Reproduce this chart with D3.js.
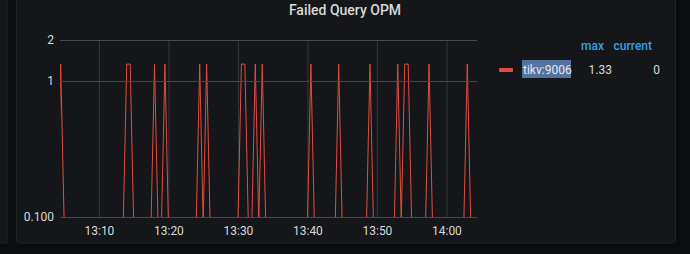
<!DOCTYPE html>
<html>
<head>
<meta charset="utf-8">
<script src="https://cdn.jsdelivr.net/npm/d3@7"></script>
<style>
  html, body { margin: 0; padding: 0; background: #0b0c0e; }
  svg { display: block; font-family: Roboto, "Noto Sans", sans-serif; }
</style>
</head>
<body>
<script>
// series: tikv:9006, one sample every 30s starting 13:04:00
const seriesName = "tikv:9006";
const startTime = "2020-01-01T13:04:00";
const stepSeconds = 30;
const values = [
  0, 1.33, 0, 0, 0, 0, 0, 0, 0, 0, 0, 0, 0, 0, 0, 0, 0, 0, 0, 0,
  1.33, 1.33, 0, 0, 0, 0, 0, 0, 1.33, 0, 0, 1.33, 0, 0, 0, 0, 0, 0, 0, 0,
  0, 1.33, 0, 1.33, 0, 0, 0, 0, 0, 0, 0, 0, 0, 1.33, 1.33, 0, 0, 1.33, 0, 1.33,
  0, 0, 0, 0, 0, 0, 0, 0, 0, 0, 0, 0, 0, 1.33, 0, 0, 0, 0, 0, 0,
  0, 1.33, 0, 0, 0, 0, 0, 0, 0, 0, 1.33, 0, 0, 0, 0, 0, 0, 0, 1.33, 0,
  1.33, 1.33, 0, 0, 0, 0, 0, 1.33, 0, 0, 0, 0, 0, 0, 0, 0, 0, 0, 1.33, 0,
  0
];
const timeDomain = ["2020-01-01T13:04:24", "2020-01-01T14:04:24"];
const yTicks = [0.1, 1, 2];
const yTickLabels = ["0.100", "1", "2"];
const legendHeaders = ["max", "current"];
const legendValues = ["1.33", "0"];

// zero can't sit on a log axis, it is pushed just under the bottom and clipped
const zeroFloor = 0.09;

const width = 690;
const height = 254;
const plot = { left: 60, right: 477, top: 40, bottom: 217 };

const t0 = new Date(startTime).getTime();
const data = values.map((v, i) => ({ t: new Date(t0 + i * stepSeconds * 1000), v: v }));

const svg = d3.select("body").append("svg")
  .attr("width", width)
  .attr("height", height);

// panels
svg.append("rect").attr("x", -10).attr("y", -10).attr("width", 17).attr("height", 253)
  .attr("fill", "#141619").attr("stroke", "#202226");
svg.append("rect").attr("x", 16.5).attr("y", -10).attr("width", 659).attr("height", 253)
  .attr("rx", 3).attr("fill", "#141619").attr("stroke", "#202226");

svg.append("text")
  .attr("x", 345).attr("y", 15)
  .attr("text-anchor", "middle")
  .attr("fill", "#d8d9da")
  .attr("font-size", 14).attr("font-weight", 500)
  .text("Failed Query OPM");

const x = d3.scaleTime()
  .domain(timeDomain.map((d) => new Date(d)))
  .range([plot.left, plot.right]);

const y = d3.scaleLog()
  .domain([yTicks[0], yTicks[yTicks.length - 1]])
  .range([plot.bottom, plot.top]);

const xAxis = d3.axisBottom(x)
  .ticks(d3.timeMinute.every(10))
  .tickFormat(d3.timeFormat("%H:%M"))
  .tickSize(-(plot.bottom - plot.top))
  .tickPadding(9);

const yAxis = d3.axisLeft(y)
  .tickValues(yTicks)
  .tickFormat((d, i) => yTickLabels[i])
  .tickSize(-(plot.right - plot.left))
  .tickPadding(6);

const gx = svg.append("g")
  .attr("transform", "translate(0," + plot.bottom + ")")
  .call(xAxis);
gx.select(".domain").remove();
gx.selectAll(".tick line").attr("stroke", "#34373b");

svg.append("clipPath").attr("id", "plot-clip")
  .append("rect")
  .attr("x", plot.left).attr("y", plot.top - 2)
  .attr("width", plot.right - plot.left)
  .attr("height", plot.bottom - plot.top + 2);

const line = d3.line()
  .x((d) => x(d.t))
  .y((d) => y(d.v > 0 ? d.v : zeroFloor));

svg.append("path")
  .datum(data)
  .attr("clip-path", "url(#plot-clip)")
  .attr("fill", "none")
  .attr("stroke", "#e24d42")
  .attr("stroke-width", 1)
  .attr("d", line);

const gy = svg.append("g")
  .attr("transform", "translate(" + plot.left + ",0)")
  .call(yAxis);
gy.select(".domain").remove();
gy.selectAll(".tick line").attr("stroke", "#45484c");

svg.selectAll(".tick text")
  .attr("fill", "#d8d9da")
  .attr("font-size", 12)
  .attr("font-family", "Roboto, sans-serif");

// legend
const legend = svg.append("g").attr("font-size", 12);
legend.append("text").attr("x", 604).attr("y", 50).attr("text-anchor", "end")
  .attr("fill", "#33a2e5").attr("font-weight", 500).text(legendHeaders[0]);
legend.append("text").attr("x", 652).attr("y", 50).attr("text-anchor", "end")
  .attr("fill", "#33a2e5").attr("font-weight", 500).text(legendHeaders[1]);

legend.append("rect").attr("x", 499).attr("y", 68).attr("width", 14).attr("height", 4)
  .attr("rx", 1).attr("fill", "#e24d42");
legend.append("rect").attr("x", 522).attr("y", 60).attr("width", 49).attr("height", 18)
  .attr("fill", "#55739f");
legend.append("text").attr("x", 523).attr("y", 74).attr("fill", "#e8e9ea").text(seriesName);
legend.append("text").attr("x", 612).attr("y", 74).attr("text-anchor", "end")
  .attr("fill", "#d8d9da").text(legendValues[0]);
legend.append("text").attr("x", 660).attr("y", 74).attr("text-anchor", "end")
  .attr("fill", "#d8d9da").text(legendValues[1]);
</script>
</body>
</html>
